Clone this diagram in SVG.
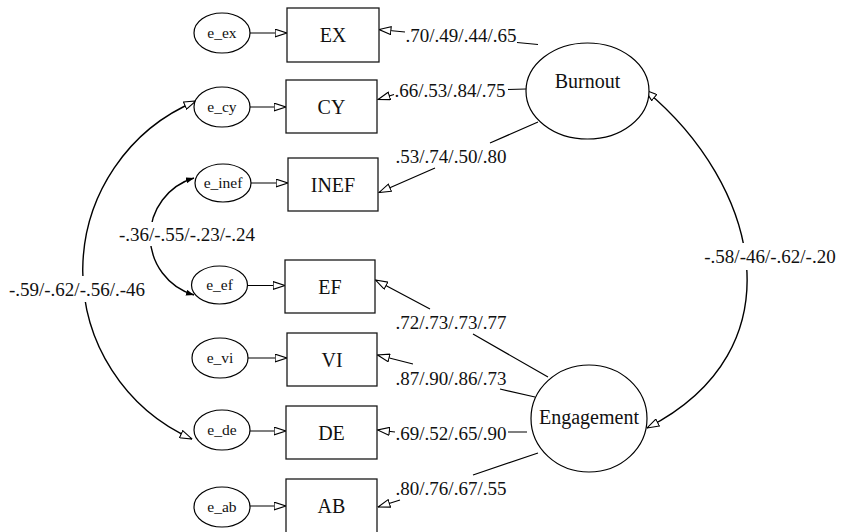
<svg xmlns="http://www.w3.org/2000/svg" width="841" height="532" viewBox="0 0 841 532">
<style>
.bx{fill:#fff;stroke:#1a1a1a;stroke-width:1.3}
.el{fill:#fff;stroke:#000;stroke-width:1.2}
.ln{fill:none;stroke:#000;stroke-width:1.2}
.cv{fill:none;stroke:#000;stroke-width:1.4}
.nt{font-family:"Liberation Serif","Times New Roman",serif;font-size:20px;fill:#111;text-anchor:middle}
.et{font-family:"Liberation Serif","Times New Roman",serif;font-size:15.5px;fill:#111;text-anchor:middle}
.lt{font-family:"Liberation Serif","Times New Roman",serif;font-size:19px;fill:#111;text-anchor:middle}
.bg{fill:#fff;stroke:none}
</style>
<defs>
<marker id="oa" viewBox="0 0 13 9" refX="12.5" refY="4.5" markerWidth="13" markerHeight="9" markerUnits="userSpaceOnUse" orient="auto-start-reverse">
<path d="M0.6,0.6 L12.4,4.5 L0.6,8.4 Z" fill="#fff" stroke="#000" stroke-width="1.1"/>
</marker>
<marker id="fa" viewBox="0 0 8 6" refX="8" refY="3" markerWidth="8" markerHeight="6" markerUnits="userSpaceOnUse" orient="auto-start-reverse">
<path d="M0,0 L8,3 L0,6 Z" fill="#000"/>
</marker>
</defs>

<g id="connectors">
<path class="ln" d="M250,33 L287,33" marker-end="url(#oa)"/>
<path class="ln" d="M250,107 L286,107" marker-end="url(#oa)"/>
<path class="ln" d="M251,183 L288,183" marker-end="url(#oa)"/>
<path class="ln" d="M247,285.5 L285,285.5" marker-end="url(#oa)"/>
<path class="ln" d="M248,358 L287,358" marker-end="url(#oa)"/>
<path class="ln" d="M250,431 L286,431" marker-end="url(#oa)"/>
<path class="ln" d="M250,506 L286,506" marker-end="url(#oa)"/>

<path class="ln" d="M538,44.5 L517,42.5 M405,32 L379,29.5" marker-end="url(#oa)"/>
<path class="ln" d="M526,89 L508,89.5 M394,94.5 L378,99.5" marker-end="url(#oa)"/>
<path class="ln" d="M538,122 L490,143 M435,168 L379,192.5" marker-end="url(#oa)"/>
<path class="ln" d="M548,377 L473,334 M430,309 L375.5,280" marker-end="url(#oa)"/>
<path class="ln" d="M535,397 L500,389 M413,364 L377.5,355" marker-end="url(#oa)"/>
<path class="ln" d="M527,432 L508,432 M395,432 L377.5,430" marker-end="url(#oa)"/>
<path class="ln" d="M538,453 L473,475 M400,500 L378,507" marker-end="url(#oa)"/>

<path class="cv" d="M196,101 A184,184 0 0 0 192,439" marker-start="url(#oa)" marker-end="url(#oa)"/>
<path class="cv" d="M194,178 A61,61 0 0 0 194,295" marker-start="url(#fa)" marker-end="url(#fa)"/>
<path class="cv" d="M645,90 C760,185 800,350 647,428" marker-start="url(#oa)" marker-end="url(#oa)"/>

<rect class="bg" x="5" y="276" width="143" height="26"/>
<rect class="bg" x="114" y="222" width="146" height="24"/>
<rect class="bg" x="701" y="243" width="140" height="27"/>

<text class="lt" x="461" y="42">.70/.49/.44/.65</text>
<text class="lt" x="450" y="97">.66/.53/.84/.75</text>
<text class="lt" x="451" y="163">.53/.74/.50/.80</text>
<text class="lt" x="451" y="329">.72/.73/.73/.77</text>
<text class="lt" x="451" y="385">.87/.90/.86/.73</text>
<text class="lt" x="451" y="440">.69/.52/.65/.90</text>
<text class="lt" x="451" y="495">.80/.76/.67/.55</text>
<text class="lt" x="77" y="296">-.59/-.62/-.56/.-46</text>
<text class="lt" x="187" y="241">-.36/-.55/-.23/-.24</text>
<text class="lt" x="770" y="263">-.58/-46/-.62/-.20</text>
</g>

<g id="e_ex"><ellipse class="el" cx="222" cy="33" rx="28" ry="20"/><text class="et" x="222" y="38">e_ex</text></g>
<g id="e_cy"><ellipse class="el" cx="222" cy="107" rx="28" ry="20"/><text class="et" x="222" y="112">e_cy</text></g>
<g id="e_inef"><ellipse class="el" cx="223" cy="183" rx="28" ry="19"/><text class="et" x="223" y="188">e_inef</text></g>
<g id="e_ef"><ellipse class="el" cx="219.5" cy="285" rx="28" ry="19"/><text class="et" x="219.5" y="290">e_ef</text></g>
<g id="e_vi"><ellipse class="el" cx="220" cy="358" rx="28" ry="20"/><text class="et" x="220" y="363">e_vi</text></g>
<g id="e_de"><ellipse class="el" cx="222" cy="430" rx="28" ry="20"/><text class="et" x="222" y="435">e_de</text></g>
<g id="e_ab"><ellipse class="el" cx="222" cy="507" rx="28" ry="20"/><text class="et" x="222" y="512">e_ab</text></g>

<g id="EX"><rect class="bx" x="287" y="8" width="92" height="54"/><text class="nt" x="333" y="42">EX</text></g>
<g id="CY"><rect class="bx" x="286" y="80" width="91" height="53"/><text class="nt" x="331.5" y="113.5">CY</text></g>
<g id="INEF"><rect class="bx" x="288" y="158" width="90" height="53"/><text class="nt" x="333" y="191.5">INEF</text></g>
<g id="EF"><rect class="bx" x="285" y="260" width="90" height="53"/><text class="nt" x="330" y="293.5">EF</text></g>
<g id="VI"><rect class="bx" x="287" y="333" width="90" height="53"/><text class="nt" x="332" y="366.5">VI</text></g>
<g id="DE"><rect class="bx" x="286" y="406" width="91" height="53"/><text class="nt" x="331.5" y="439.5">DE</text></g>
<g id="AB"><rect class="bx" x="286" y="479" width="91" height="56"/><text class="nt" x="331.5" y="513">AB</text></g>

<g id="Burnout"><ellipse class="el" cx="587.5" cy="91" rx="61.5" ry="48"/><text class="nt" x="587.5" y="88">Burnout</text></g>
<g id="Engagement"><ellipse class="el" cx="589" cy="418.5" rx="58" ry="53.5"/><text class="nt" x="589" y="424">Engagement</text></g>
</svg>
